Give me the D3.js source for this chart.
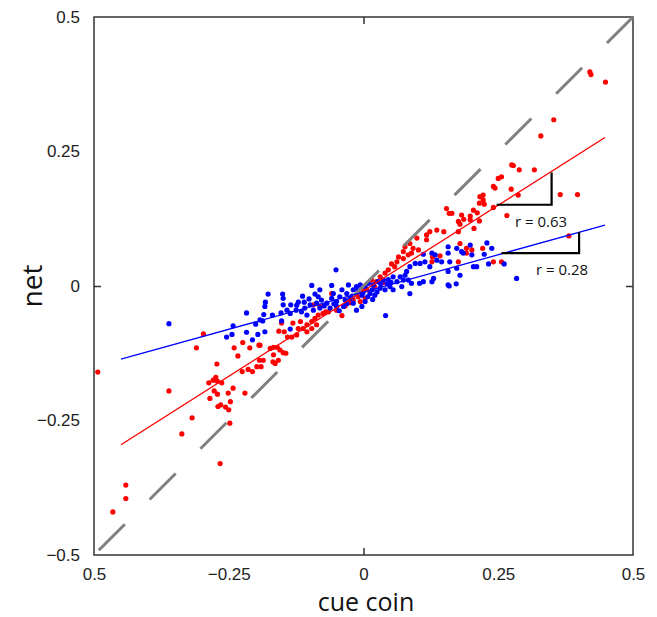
<!DOCTYPE html>
<html>
<head>
<meta charset="utf-8">
<script src="https://cdn.jsdelivr.net/npm/d3@7"></script>
<style>
  html, body { margin: 0; padding: 0; background: #fff; }
  svg { display: block; }
</style>
</head>
<body>
<svg id="chart" width="657" height="617"></svg>
<script>
// ---------------- data ----------------
const xTickValues = [-0.5, -0.25, 0, 0.25, 0.5];
const xTickLabels = ["0.5", "\u22120.25", "0", "0.25", "0.5"];
const yTickValues = [0.5, 0.25, 0, -0.25, -0.5];
const yTickLabels = ["0.5", "0.25", "0", "\u22120.25", "\u22120.5"];

const xTitle = "cue coin";
const yTitle = "net";

// red series (cue coin, net)
const redX = [-0.493,-0.297,-0.310,-0.272,-0.361,-0.240,-0.224,-0.211,-0.194,-0.233,
  -0.287,-0.279,-0.274,-0.271,-0.263,-0.225,-0.214,-0.206,-0.198,-0.193,
  -0.277,-0.271,-0.285,-0.251,-0.242,-0.220,-0.247,-0.270,-0.265,-0.256,
  -0.250,-0.248,-0.318,-0.337,-0.266,-0.441,-0.441,-0.465,-0.192,-0.186,
  -0.190,-0.168,-0.164,-0.167,-0.158,-0.149,-0.144,-0.173,-0.167,-0.160,
  -0.155,-0.141,-0.133,-0.124,-0.152,-0.131,-0.157,-0.147,-0.121,
  0.052,0.058,0.046,0.040,0.031,0.024,0.015,-0.010,-0.019,-0.025,
  -0.040,-0.059,-0.081,-0.093,-0.105,-0.096,-0.090,-0.084,-0.075,-0.112,
  -0.105,-0.096,-0.087,-0.050,-0.065,-0.006,0.003,-0.117,-0.070,-0.034,
  0.006,-0.003,0.021,0.036,
  0.215,0.154,0.159,0.164,0.182,0.198,0.186,0.198,0.211,0.215,
  0.176,0.179,0.123,0.136,0.149,0.117,0.176,0.099,0.117,0.086,
  0.077,0.092,0.102,0.074,0.083,0.089,0.065,0.074,0.062,0.179,
  0.191,0.201,0.191,0.142,0.128,0.176,0.127,0.205,0.204,
  0.420,0.422,0.449,0.353,0.329,0.275,0.278,0.289,0.317,0.256,
  0.250,0.244,0.241,0.274,0.287,0.365,0.397,0.222,0.216,0.222,
  0.224,0.241,0.266,0.381,0.221,0.241,0.256];
const redY = [-0.160,-0.089,-0.115,-0.145,-0.195,-0.115,-0.105,-0.115,-0.110,-0.130,
  -0.180,-0.175,-0.170,-0.177,-0.180,-0.159,-0.155,-0.159,-0.150,-0.138,
  -0.195,-0.201,-0.209,-0.199,-0.190,-0.199,-0.215,-0.224,-0.221,-0.225,
  -0.230,-0.255,-0.245,-0.275,-0.330,-0.370,-0.395,-0.420,-0.110,-0.138,
  -0.150,-0.141,-0.144,-0.128,-0.138,-0.124,-0.125,-0.116,-0.114,-0.114,
  -0.119,-0.095,-0.095,-0.091,-0.069,-0.069,-0.084,-0.085,-0.079,
  0.041,0.036,0.030,0.024,0.017,0.008,0.011,-0.020,-0.026,-0.031,
  -0.055,-0.014,-0.038,-0.035,-0.072,-0.066,-0.060,-0.054,-0.051,-0.079,
  -0.085,-0.079,-0.072,-0.045,-0.048,-0.029,-0.023,-0.066,-0.048,-0.037,
  -0.007,-0.004,-0.002,0.006,
  0.154,0.144,0.135,0.135,0.132,0.130,0.124,0.123,0.136,0.121,
  0.120,0.115,0.101,0.104,0.101,0.095,0.101,0.089,0.086,0.079,
  0.073,0.070,0.067,0.064,0.058,0.061,0.054,0.051,0.045,0.079,
  0.070,0.067,0.061,0.056,0.054,0.045,0.045,0.107,0.141,
  0.398,0.393,0.379,0.309,0.279,0.225,0.224,0.216,0.216,0.203,
  0.200,0.182,0.185,0.180,0.169,0.170,0.170,0.169,0.166,0.160,
  0.152,0.146,0.131,0.093,0.070,0.045,0.045];

// blue series (cue coin, net)
const blueX = [-0.361,-0.217,-0.242,-0.200,-0.254,-0.244,-0.217,-0.206,-0.196,
  -0.177,-0.150,-0.149,-0.182,-0.183,-0.149,-0.135,-0.124,-0.185,-0.169,
  -0.153,-0.142,-0.136,-0.125,-0.152,-0.136,-0.183,-0.187,-0.192,-0.121,
  -0.051,-0.096,-0.113,-0.090,-0.081,-0.059,-0.040,-0.031,-0.025,-0.019,
  -0.013,-0.006,0.003,0.009,0.018,0.027,0.037,0.046,0.055,0.062,
  0.031,0.040,0.049,0.012,0.021,-0.003,0.003,-0.003,-0.013,-0.019,
  -0.034,-0.050,-0.059,-0.068,-0.078,-0.087,-0.099,-0.109,-0.115,-0.093,
  -0.081,-0.062,-0.050,-0.037,-0.105,-0.044,0.041,-0.028,-0.056,0.055,0.017,
  -0.110,-0.101,-0.084,-0.073,-0.055,-0.045,-0.031,-0.021,-0.010,-0.001,
  0.008,0.016,0.025,0.032,0.044,0.051,
  0.198,0.173,0.157,0.182,0.201,0.185,0.157,0.133,0.127,0.111,
  0.136,0.145,0.160,0.173,0.157,0.179,0.204,0.210,0.123,0.114,
  0.105,0.096,0.086,0.130,0.127,0.111,0.104,0.157,0.077,0.068,
  0.074,0.083,0.089,0.071,0.086,0.080,
  0.229,0.238,0.224,0.232,0.261,0.284,0.172,0.159];
const blueY = [-0.070,-0.050,-0.074,-0.071,-0.095,-0.090,-0.086,-0.100,-0.090,
  -0.015,-0.015,-0.023,-0.030,-0.038,-0.035,-0.035,-0.036,-0.053,-0.054,
  -0.050,-0.045,-0.051,-0.045,-0.065,-0.080,-0.085,-0.065,-0.063,-0.030,
  0.030,0.001,-0.019,-0.015,-0.007,0.001,-0.007,-0.014,-0.023,-0.007,
  -0.001,0.002,-0.001,0.005,0.002,0.008,0.011,0.012,0.017,0.008,
  -0.004,-0.007,-0.001,-0.014,-0.017,-0.017,-0.029,-0.038,-0.045,-0.032,
  -0.026,-0.029,-0.023,-0.032,-0.026,-0.032,-0.035,-0.041,-0.048,-0.045,
  -0.041,-0.041,-0.038,-0.038,-0.054,-0.020,-0.055,0.002,-0.014,-0.007,-0.025,
  -0.030,-0.024,-0.020,-0.037,-0.033,-0.046,-0.033,-0.019,-0.009,-0.013,
  -0.020,-0.007,-0.011,0.004,0.004,0.007,
  0.076,0.070,0.073,0.064,0.058,0.061,0.061,0.058,0.061,0.059,
  0.048,0.045,0.045,0.033,0.027,0.020,0.036,0.036,0.036,0.045,
  0.042,0.042,0.036,0.014,0.008,0.008,0.005,0.002,0.020,0.017,
  0.011,0.011,0.005,-0.001,-0.014,0.027,
  0.080,0.070,0.059,0.041,0.041,0.014,0.004,0.000];

// fitted regression lines: endpoints [cue coin, net]
const redFit = [[-0.450, -0.295], [0.448, 0.276]];
const blueFit = [[-0.450, -0.136], [0.448, 0.113]];
// identity line
const identity = [[0.5, 0.5], [-0.5, -0.5]];
// slope triangles
const redTri = [[0.247, 0.151], [0.349, 0.151], [0.349, 0.211]];
const blueTri = [[0.256, 0.061], [0.400, 0.061], [0.400, 0.100]];
const redLabel = { text: "r = 0.63", x: 0.281, y: 0.110 };
const blueLabel = { text: "r = 0.28", x: 0.320, y: 0.020 };

// ---------------- chart ----------------
const svg = d3.select("#chart");
const L = 94, T = 17, W = 539, H = 538;
const x = d3.scaleLinear().domain([-0.5, 0.5]).range([L, L + W]);
const y = d3.scaleLinear().domain([-0.5, 0.5]).range([T + H, T]);

svg.append("rect").attr("width", 657).attr("height", 617).attr("fill", "#fff");

const tickFont = "'Liberation Sans', Arial, Helvetica, sans-serif";

// tick labels
const gx = svg.append("g").attr("transform", `translate(0,${T + H})`)
  .call(d3.axisBottom(x).tickValues(xTickValues).tickSize(0).tickPadding(13)
    .tickFormat((d, i) => xTickLabels[i]));
gx.select(".domain").remove();
gx.selectAll("text").attr("font-family", tickFont).attr("font-size", 17).attr("fill", "#222");

const gy = svg.append("g").attr("transform", `translate(${L},0)`)
  .call(d3.axisLeft(y).tickValues(yTickValues).tickSize(0).tickPadding(14)
    .tickFormat((d, i) => yTickLabels[i]));
gy.select(".domain").remove();
gy.selectAll("text").attr("font-family", tickFont).attr("font-size", 17).attr("fill", "#222");

// inward ticks at 0 on all four sides
const tickLen = 7;
function innerTicks(axis, transform) {
  const g = svg.append("g").attr("transform", transform)
    .call(axis.tickValues([0]).tickSize(-tickLen).tickFormat(""));
  g.select(".domain").remove();
  g.selectAll("line").attr("stroke", "#333").attr("stroke-width", 1.5);
}
innerTicks(d3.axisBottom(x), `translate(0,${T + H})`);
innerTicks(d3.axisTop(x), `translate(0,${T})`);
innerTicks(d3.axisLeft(y), `translate(${L},0)`);
innerTicks(d3.axisRight(y), `translate(${L + W},0)`);

// frame
svg.append("rect").attr("x", L).attr("y", T).attr("width", W).attr("height", H)
  .attr("fill", "none").attr("stroke", "#333").attr("stroke-width", 1.5);

// points
const red = redX.map((v, i) => [v, redY[i]]);
const blue = blueX.map((v, i) => [v, blueY[i]]);
svg.append("g").selectAll("circle").data(red).join("circle")
  .attr("cx", d => x(d[0])).attr("cy", d => y(d[1])).attr("r", 2.6).attr("fill", "#ff0000");
svg.append("g").selectAll("circle").data(blue).join("circle")
  .attr("cx", d => x(d[0])).attr("cy", d => y(d[1])).attr("r", 2.6).attr("fill", "#0000ff");

const line = d3.line().x(d => x(d[0])).y(d => y(d[1]));

// identity dashed line
svg.append("path").attr("d", line(identity)).attr("fill", "none")
  .attr("stroke", "#808080").attr("stroke-width", 3).attr("stroke-dasharray", "36.8,35");

// regression lines
svg.append("path").attr("d", line(redFit)).attr("fill", "none")
  .attr("stroke", "#ff0000").attr("stroke-width", 1.3);
svg.append("path").attr("d", line(blueFit)).attr("fill", "none")
  .attr("stroke", "#0000ff").attr("stroke-width", 1.3);

// slope triangles
[redTri, blueTri].forEach(t => {
  svg.append("path").attr("d", line(t)).attr("fill", "none")
    .attr("stroke", "#000").attr("stroke-width", 2.2);
});
[redLabel, blueLabel].forEach(l => {
  svg.append("text").attr("x", x(l.x)).attr("y", y(l.y))
    .attr("font-family", "'Open Sans', sans-serif").attr("font-size", 15)
    .attr("fill", "#111").text(l.text);
});

// axis titles
svg.append("text").attr("x", 366).attr("y", 611).attr("text-anchor", "middle")
  .attr("font-family", "'Open Sans', sans-serif").attr("font-size", 25).attr("fill", "#111")
  .text(xTitle);
svg.append("text").attr("transform", "translate(42,286) rotate(-90)").attr("text-anchor", "middle")
  .attr("font-family", "'Open Sans', sans-serif").attr("font-size", 28).attr("fill", "#111")
  .text(yTitle);
</script>
</body>
</html>
